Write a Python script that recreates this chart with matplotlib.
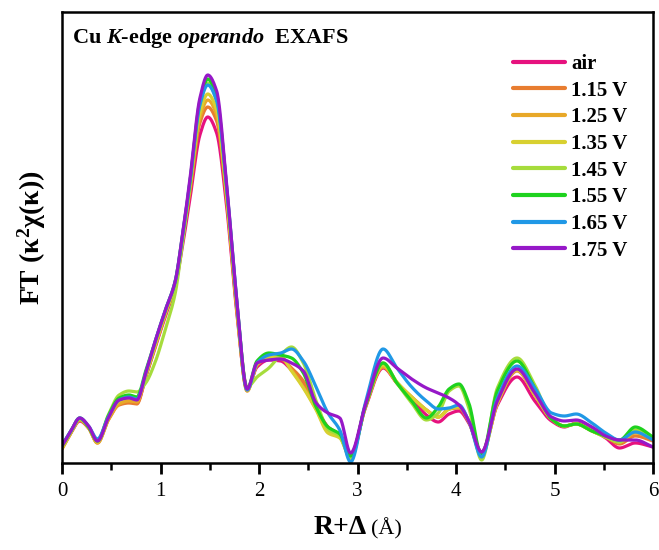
import numpy as np
import matplotlib
matplotlib.use("Agg")
import matplotlib.pyplot as plt

plt.rcParams['font.family'] = ['Liberation Serif', 'DejaVu Serif']
plt.rcParams['mathtext.fontset'] = 'custom'
plt.rcParams['mathtext.rm'] = 'Liberation Serif:bold'
plt.rcParams['mathtext.it'] = 'Liberation Serif:italic:bold'
plt.rcParams['mathtext.bf'] = 'Liberation Serif:bold'

r_knots = [0.00, 0.09, 0.18, 0.27, 0.36, 0.47, 0.58, 0.68, 0.76, 0.85, 0.95, 1.05, 1.15,
           1.22, 1.30, 1.40, 1.48, 1.57, 1.67, 1.77,
           1.88, 1.98, 2.10, 2.22, 2.33, 2.45, 2.58, 2.70, 2.82, 2.93,
           3.08, 3.26, 3.40, 3.55, 3.70, 3.82, 3.93, 4.03, 4.13, 4.26,
           4.42, 4.62, 4.80, 4.97, 5.10, 5.22, 5.38, 5.52, 5.66, 5.82, 6.00]

labels = ['air', '1.15 V', '1.25 V', '1.35 V', '1.45 V', '1.55 V', '1.65 V', '1.75 V']
colors = ['#E6127E', '#E87D30', '#E8A828', '#D8D030', '#A6DC3C', '#1ED21E', '#2098E6', '#9618C8']

ft_air = [0.15, 0.30, 0.42, 0.35, 0.21, 0.44, 0.60, 0.61, 0.60, 0.86, 1.17, 1.47, 1.77,
          2.15, 2.65, 3.28, 3.46, 3.30, 2.58, 1.55,
          0.74, 0.96, 1.03, 1.02, 0.93, 0.80, 0.56, 0.36, 0.28, 0.08,
          0.55, 0.95, 0.80, 0.64, 0.48, 0.41, 0.49, 0.52, 0.40, 0.11,
          0.58, 0.86, 0.62, 0.42, 0.36, 0.40, 0.33, 0.25, 0.15, 0.20, 0.16]
ft_115 = [0.14, 0.30, 0.43, 0.35, 0.20, 0.43, 0.58, 0.60, 0.59, 0.86, 1.18, 1.49, 1.79,
          2.20, 2.72, 3.40, 3.56, 3.42, 2.65, 1.58,
          0.72, 0.98, 1.05, 1.04, 0.95, 0.82, 0.56, 0.36, 0.28, 0.07,
          0.56, 0.97, 0.80, 0.66, 0.53, 0.46, 0.54, 0.55, 0.41, 0.10,
          0.60, 0.92, 0.68, 0.44, 0.37, 0.39, 0.32, 0.26, 0.19, 0.27, 0.22]
ft_125 = [0.14, 0.30, 0.43, 0.35, 0.20, 0.43, 0.59, 0.62, 0.61, 0.88, 1.19, 1.50, 1.80,
          2.22, 2.75, 3.45, 3.63, 3.48, 2.68, 1.60,
          0.72, 0.98, 1.05, 1.06, 0.93, 0.76, 0.54, 0.32, 0.26, 0.06,
          0.56, 0.96, 0.80, 0.66, 0.53, 0.46, 0.54, 0.56, 0.42, 0.08,
          0.60, 0.93, 0.68, 0.44, 0.37, 0.39, 0.32, 0.26, 0.21, 0.30, 0.24]
ft_135 = [0.15, 0.31, 0.44, 0.36, 0.21, 0.45, 0.62, 0.65, 0.63, 0.88, 1.19, 1.50, 1.80,
          2.24, 2.78, 3.50, 3.69, 3.53, 2.70, 1.62,
          0.73, 0.99, 1.06, 1.06, 0.92, 0.75, 0.53, 0.30, 0.25, 0.05,
          0.57, 0.98, 0.81, 0.66, 0.53, 0.46, 0.54, 0.56, 0.42, 0.08,
          0.60, 0.93, 0.68, 0.44, 0.37, 0.39, 0.32, 0.26, 0.21, 0.32, 0.24]
ft_145 = [0.16, 0.31, 0.44, 0.36, 0.22, 0.48, 0.68, 0.72, 0.71, 0.80, 1.02, 1.34, 1.70,
          2.18, 2.78, 3.58, 3.80, 3.62, 2.75, 1.65,
          0.76, 0.86, 0.95, 1.08, 1.16, 1.00, 0.62, 0.34, 0.27, 0.04,
          0.58, 1.00, 0.80, 0.60, 0.43, 0.50, 0.72, 0.77, 0.55, 0.03,
          0.75, 1.05, 0.78, 0.44, 0.37, 0.39, 0.32, 0.26, 0.21, 0.33, 0.24]
ft_155 = [0.17, 0.32, 0.45, 0.36, 0.22, 0.47, 0.65, 0.68, 0.66, 0.92, 1.23, 1.53, 1.82,
          2.25, 2.82, 3.62, 3.84, 3.66, 2.78, 1.67,
          0.74, 1.02, 1.10, 1.08, 1.05, 0.90, 0.56, 0.36, 0.29, 0.07,
          0.57, 1.00, 0.80, 0.62, 0.45, 0.56, 0.74, 0.79, 0.60, 0.08,
          0.72, 1.02, 0.75, 0.44, 0.37, 0.39, 0.32, 0.27, 0.23, 0.36, 0.26]
ft_165 = [0.18, 0.32, 0.45, 0.37, 0.24, 0.46, 0.63, 0.66, 0.64, 0.90, 1.23, 1.53, 1.82,
          2.25, 2.82, 3.58, 3.78, 3.62, 2.78, 1.67,
          0.73, 1.00, 1.08, 1.10, 1.14, 1.02, 0.76, 0.50, 0.33, 0.01,
          0.60, 1.14, 0.95, 0.76, 0.62, 0.54, 0.55, 0.58, 0.42, 0.06,
          0.65, 0.97, 0.75, 0.50, 0.47, 0.49, 0.40, 0.30, 0.23, 0.31, 0.23]
ft_175 = [0.17, 0.32, 0.45, 0.37, 0.22, 0.45, 0.63, 0.65, 0.63, 0.90, 1.23, 1.53, 1.82,
          2.26, 2.85, 3.65, 3.88, 3.72, 2.80, 1.68,
          0.74, 1.00, 1.03, 1.04, 1.00, 0.92, 0.60, 0.50, 0.45, 0.10,
          0.58, 1.05, 0.95, 0.84, 0.75, 0.70, 0.65, 0.58, 0.42, 0.11,
          0.62, 0.94, 0.70, 0.46, 0.42, 0.43, 0.36, 0.27, 0.23, 0.23, 0.16]

series = [ft_air, ft_115, ft_125, ft_135, ft_145, ft_155, ft_165, ft_175]


def smooth(x, y, xs):
    # monotone cubic (pchip) just to draw a smooth line through the read points
    x = np.asarray(x, float)
    y = np.asarray(y, float)
    h = np.diff(x)
    d = np.diff(y) / h
    m = np.zeros_like(y)
    for k in range(1, len(x) - 1):
        if d[k - 1] * d[k] > 0:
            w1 = 2 * h[k] + h[k - 1]
            w2 = h[k] + 2 * h[k - 1]
            m[k] = (w1 + w2) / (w1 / d[k - 1] + w2 / d[k])
    m[0] = d[0]
    m[-1] = d[-1]
    i = np.clip(np.searchsorted(x, xs) - 1, 0, len(h) - 1)
    t = (xs - x[i]) / h[i]
    h00 = 2 * t**3 - 3 * t**2 + 1
    h10 = t**3 - 2 * t**2 + t
    h01 = -2 * t**3 + 3 * t**2
    h11 = t**3 - t**2
    return h00 * y[i] + h10 * h[i] * m[i] + h01 * y[i + 1] + h11 * h[i] * m[i + 1]


fig = plt.figure(figsize=(6.59, 5.50), dpi=100)
ax = fig.add_axes([62 / 659, 1 - 463 / 550, 591 / 659, 451 / 550])

rr = np.linspace(0, 6, 1200)
for ys, lab, col in zip(series, labels, colors):
    ax.plot(rr, smooth(r_knots, ys, rr), color=col, lw=2.3, label=lab, solid_capstyle='round')

ax.set_xlim(0, 6)
ax.set_ylim(0, 4.51)
ax.set_xticks(range(7))
ax.set_xticks(np.arange(0.5, 6, 1.0), minor=True)
ax.set_yticks([])
ax.tick_params(axis='x', which='major', direction='out', length=8, width=2, labelsize=15, pad=6)
ax.tick_params(axis='x', which='minor', direction='out', length=5, width=1.8)
for sp in ax.spines.values():
    sp.set_linewidth(1.8)

ax.set_ylabel(r'FT ($\mathrm{\kappa^2\chi(\kappa)}$)', fontsize=20, fontweight='bold', labelpad=10)
ax.text(0.516, -0.116, 'R+Δ', transform=ax.transAxes, ha='right', va='top',
        fontsize=20, fontweight='bold')
ax.text(0.523, -0.121, '(Å)', transform=ax.transAxes, ha='left', va='top', fontsize=16)

ax.text(10 / 591, (463 - 43) / 451, r'Cu $\mathit{K}$-edge $\mathit{operando}$  EXAFS',
        transform=ax.transAxes, ha='left', va='baseline', fontsize=16, fontweight='bold')

leg = ax.legend(loc='upper left', bbox_to_anchor=((513 - 62) / 591, (463 - 54) / 451),
                frameon=False, prop={'weight': 'bold', 'size': 15}, borderpad=0,
                borderaxespad=0, handlelength=2.5, handletextpad=0.3, labelspacing=0.32)
for ln in leg.get_lines():
    ln.set_linewidth(3)

fig.savefig('out.png', dpi=100)
